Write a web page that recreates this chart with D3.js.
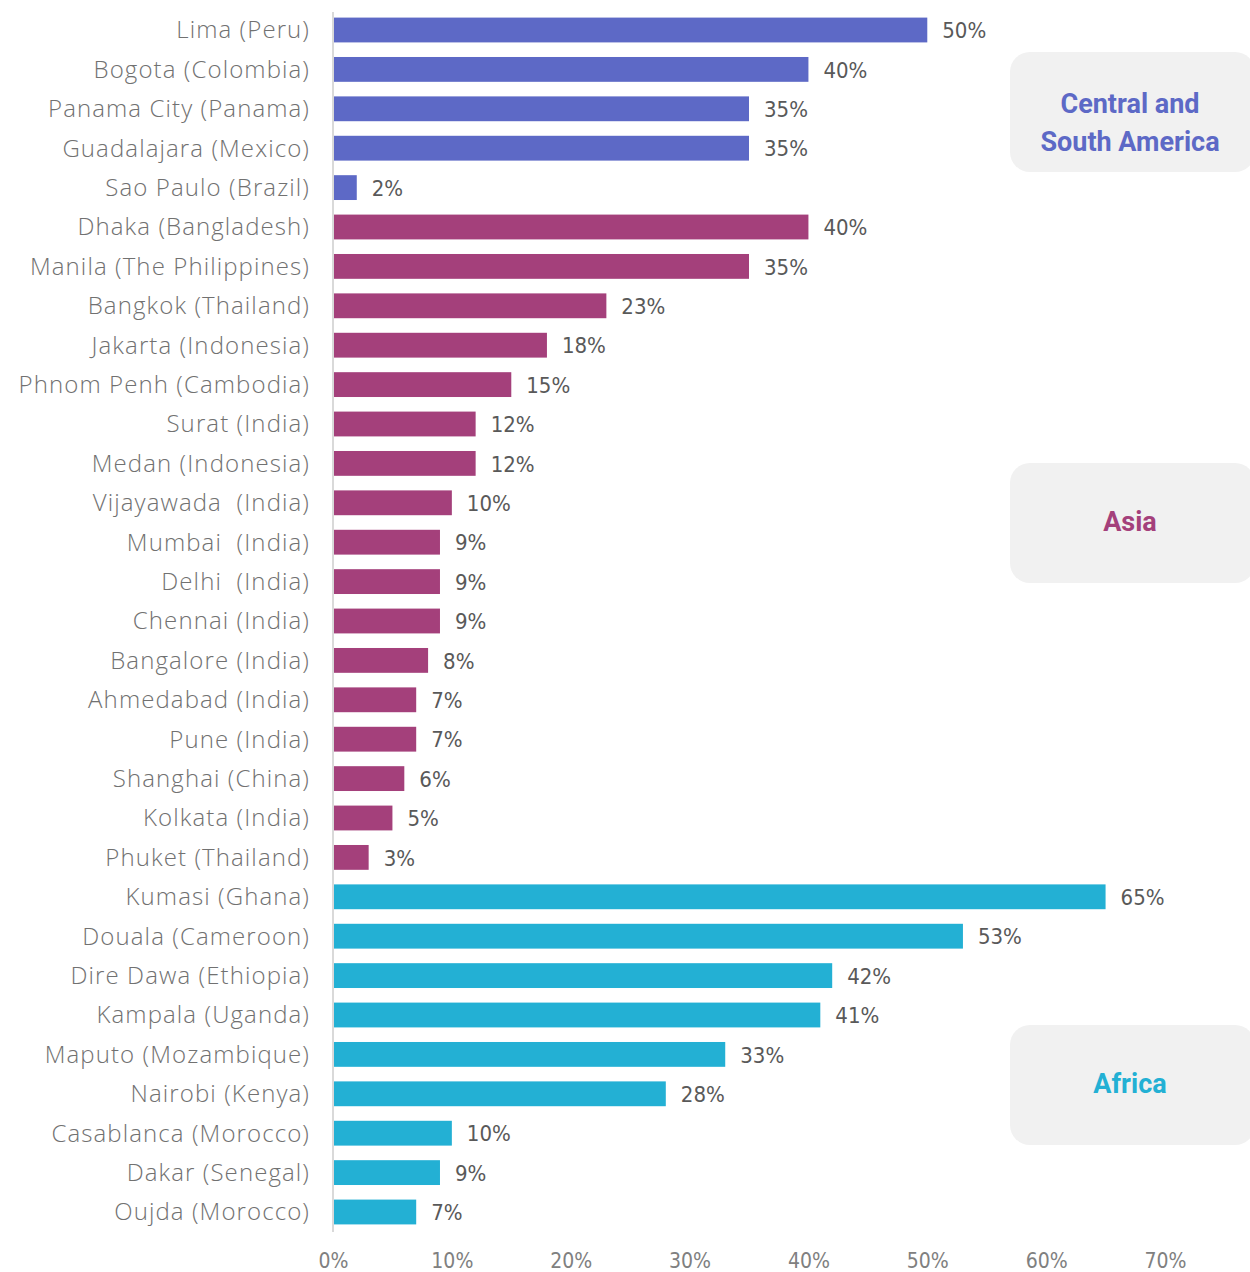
<!DOCTYPE html>
<html>
<head>
<meta charset="utf-8">
<script src="https://cdn.jsdelivr.net/npm/d3@7"></script>
<style>
  body { margin: 0; background: #fff; }
  svg { display: block; }
</style>
</head>
<body>
<div id="chart"></div>
<script>
const cities = [
  'Lima (Peru)', 'Bogota (Colombia)', 'Panama City (Panama)', 'Guadalajara (Mexico)', 'Sao Paulo (Brazil)',
  'Dhaka (Bangladesh)', 'Manila (The Philippines)', 'Bangkok (Thailand)', 'Jakarta (Indonesia)',
  'Phnom Penh (Cambodia)', 'Surat (India)', 'Medan (Indonesia)', 'Vijayawada  (India)', 'Mumbai  (India)',
  'Delhi  (India)', 'Chennai (India)', 'Bangalore (India)', 'Ahmedabad (India)', 'Pune (India)',
  'Shanghai (China)', 'Kolkata (India)', 'Phuket (Thailand)',
  'Kumasi (Ghana)', 'Douala (Cameroon)', 'Dire Dawa (Ethiopia)', 'Kampala (Uganda)', 'Maputo (Mozambique)',
  'Nairobi (Kenya)', 'Casablanca (Morocco)', 'Dakar (Senegal)', 'Oujda (Morocco)'
];
const values = [
  0.50, 0.40, 0.35, 0.35, 0.02,
  0.40, 0.35, 0.23, 0.18, 0.15, 0.12, 0.12, 0.10, 0.09, 0.09, 0.09, 0.08, 0.07, 0.07, 0.06, 0.05, 0.03,
  0.65, 0.53, 0.42, 0.41, 0.33, 0.28, 0.10, 0.09, 0.07
];
const regionOf = [
  'sa', 'sa', 'sa', 'sa', 'sa',
  'as', 'as', 'as', 'as', 'as', 'as', 'as', 'as', 'as', 'as', 'as', 'as', 'as', 'as', 'as', 'as', 'as',
  'af', 'af', 'af', 'af', 'af', 'af', 'af', 'af', 'af'
];
const regionKeys = ['sa', 'as', 'af'];
const regionNames = [['Central and', 'South America'], ['Asia'], ['Africa']];
const regionColors = ['#5d69c6', '#a4407b', '#23b0d4'];
const xTicks = [0, 0.1, 0.2, 0.3, 0.4, 0.5, 0.6, 0.7];

const width = 1250, height = 1272;
const labelFont = "'Open Sans', 'DejaVu Sans', sans-serif";
const numFont = "'DejaVu Sans Condensed', 'Liberation Sans Narrow', sans-serif";

const svg = d3.select('#chart').append('svg')
  .attr('width', width)
  .attr('height', height);

const x = d3.scaleLinear().domain([0, 0.7]).range([333, 1165]);
const y = d3.scaleBand().domain(cities).range([10.3, 1231.7])
  .paddingInner(0.37).paddingOuter(0.185);
const color = d3.scaleOrdinal().domain(regionKeys).range(regionColors);

const data = cities.map((c, i) => ({ city: c, value: values[i], region: regionOf[i] }));

// bars
svg.append('g').selectAll('rect')
  .data(data)
  .enter().append('rect')
  .attr('x', x(0) + 1)
  .attr('y', d => y(d.city))
  .attr('width', d => x(d.value) - x(0) - 1)
  .attr('height', y.bandwidth())
  .attr('fill', d => color(d.region));

// baseline
svg.append('line')
  .attr('x1', x(0)).attr('x2', x(0))
  .attr('y1', 12).attr('y2', 1232)
  .attr('stroke', '#d9d9d9')
  .attr('stroke-width', 2);

// category labels
svg.append('g').selectAll('text')
  .data(data)
  .enter().append('text')
  .attr('x', 310)
  .attr('y', d => y(d.city) + y.bandwidth() / 2)
  .attr('dy', '0.35em')
  .attr('text-anchor', 'end')
  .attr('fill', '#717171')
  .style('font-family', labelFont)
  .style('font-weight', 300)
  .style('font-size', '24px')
  .style('letter-spacing', '1.1px')
  .style('white-space', 'pre')
  .text(d => d.city);

// value labels
svg.append('g').selectAll('text')
  .data(data)
  .enter().append('text')
  .attr('x', d => x(d.value) + 15)
  .attr('y', d => y(d.city) + y.bandwidth() / 2)
  .attr('dy', '0.37em')
  .attr('fill', '#595959')
  .style('font-family', numFont)
  .style('font-size', '22px')
  .text(d => d3.format('.0%')(d.value));

// x axis
const xAxis = svg.append('g')
  .attr('transform', 'translate(0,1260)')
  .call(d3.axisBottom(x).tickValues(xTicks).tickFormat(d3.format('.0%')).tickSize(0).tickPadding(0));
xAxis.select('.domain').remove();
xAxis.selectAll('text')
  .attr('dy', '0.36em')
  .attr('fill', '#808080')
  .style('font-family', numFont)
  .style('font-size', '21px');

// region boxes
const boxTop = [52, 463, 1025];
const textShift = [12, 0, 0];
const boxes = svg.append('g').selectAll('g')
  .data(regionKeys)
  .enter().append('g')
  .attr('transform', (d, i) => 'translate(1010,' + boxTop[i] + ')');

boxes.append('rect')
  .attr('width', 245)
  .attr('height', 120)
  .attr('rx', 20)
  .attr('fill', '#f1f1f1');

boxes.each(function(d, i) {
  const lines = regionNames[i];
  const t = d3.select(this).append('text')
    .attr('text-anchor', 'middle')
    .attr('fill', regionColors[i])
    .style('font-family', 'Roboto, sans-serif')
    .style('font-weight', 700)
    .style('font-size', '27px');
  lines.forEach((ln, k) => {
    t.append('tspan')
      .attr('x', 120)
      .attr('y', 58 + textShift[i] + (k - (lines.length - 1) / 2) * 38)
      .attr('dy', '0.36em')
      .text(ln);
  });
});
</script>
</body>
</html>
